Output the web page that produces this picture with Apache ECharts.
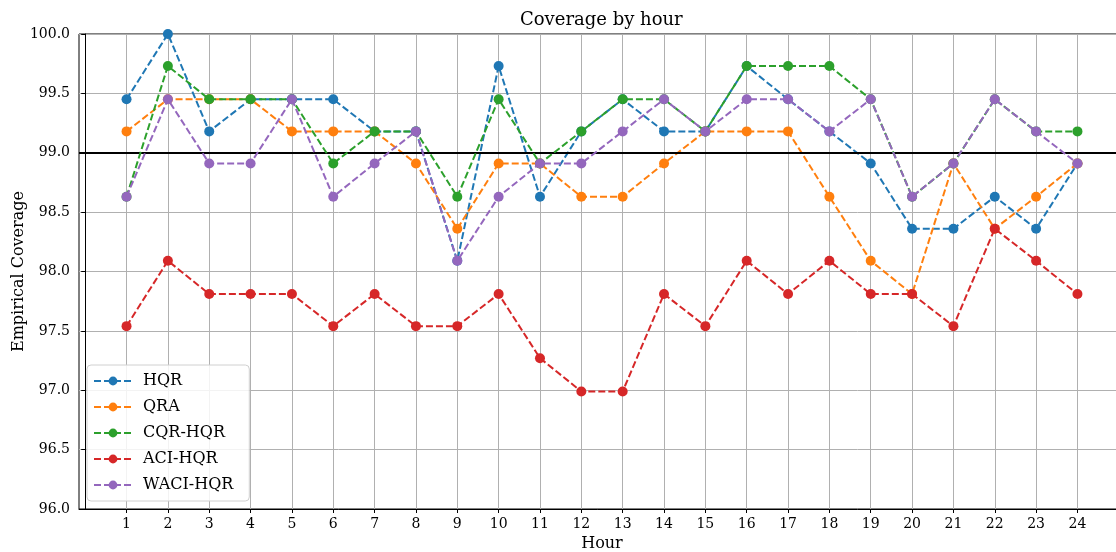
<!DOCTYPE html>
<html>
<head>
<meta charset="utf-8">
<script src="https://cdn.jsdelivr.net/npm/echarts@6/dist/echarts.min.js"></script>
<style>html,body{margin:0;padding:0;background:#fff}#c{width:1116px;height:552px}</style>
</head>
<body>
<div id="c"></div>
<script>
const hours = [1,2,3,4,5,6,7,8,9,10,11,12,13,14,15,16,17,18,19,20,21,22,23,24];
const yTicks = [96.0,96.5,97.0,97.5,98.0,98.5,99.0,99.5,100.0];
const seriesNames = ['HQR','QRA','CQR-HQR','ACI-HQR','WACI-HQR'];
const hqr  = [99.45,100.0,99.18,99.45,99.45,99.45,99.18,99.18,98.09,99.73,98.63,99.18,99.45,99.18,99.18,99.73,99.45,99.18,98.91,98.36,98.36,98.63,98.36,98.91];
const qra  = [99.18,99.45,99.45,99.45,99.18,99.18,99.18,98.91,98.36,98.91,98.91,98.63,98.63,98.91,99.18,99.18,99.18,98.63,98.09,97.81,98.91,98.36,98.63,98.91];
const cqr  = [98.63,99.73,99.45,99.45,99.45,98.91,99.18,99.18,98.63,99.45,98.91,99.18,99.45,99.45,99.18,99.73,99.73,99.73,99.45,98.63,98.91,99.45,99.18,99.18];
const aci  = [97.54,98.09,97.81,97.81,97.81,97.54,97.81,97.54,97.54,97.81,97.27,96.99,96.99,97.81,97.54,98.09,97.81,98.09,97.81,97.81,97.54,98.36,98.09,97.81];
const waci = [98.63,99.45,98.91,98.91,99.45,98.63,98.91,99.18,98.09,98.63,98.91,98.91,99.18,99.45,99.18,99.45,99.45,99.18,99.45,98.63,98.91,99.45,99.18,98.91];
const target = 99.0;
const colors = ['#1f77b4','#ff7f0e','#2ca02c','#d62728','#9467bd'];
const allData = [hqr, qra, cqr, aci, waci];

const font = "'DejaVu Serif', serif";
const chart = echarts.init(document.getElementById('c'), null, {renderer:'canvas'});

const series = allData.map((arr, i) => ({
  name: seriesNames[i],
  type: 'line',
  data: hours.map((h, j) => [h, arr[j]]),
  symbol: 'circle',
  symbolSize: 10,
  showSymbol: true,
  itemStyle: {color: colors[i], borderWidth: 0},
  lineStyle: {color: colors[i], width: 2, type: [7, 3]},
  emphasis: {disabled: true},
  animation: false,
  z: 3 + i
}));
series.push({
  name: 'target',
  type: 'line',
  data: [],
  markLine: {
    silent: true,
    symbol: ['none','none'],
    label: {show: false},
    lineStyle: {color: '#000', width: 2.2, type: 'solid'},
    data: [{yAxis: target}],
    animation: false
  },
  z: 2
});

chart.setOption({
  animation: false,
  backgroundColor: '#fff',
  title: {
    text: 'Coverage by hour',
    left: 515, top: 6,
    textStyle: {fontFamily: font, fontSize: 18, fontWeight: 'normal', color: '#000'}
  },
  legend: {
    data: seriesNames,
    orient: 'vertical',
    left: 87, top: 365,
    itemWidth: 38, itemHeight: 11, itemGap: 10,
    padding: [8, 16, 8, 6],
    borderColor: '#d0d0d0', borderWidth: 1, borderRadius: 4,
    backgroundColor: 'rgba(255,255,255,0.85)',
    textStyle: {fontFamily: font, fontSize: 16, color: '#000', padding: [0,0,0,6]}
  },
  grid: {left: 79, top: 34, right: -9, bottom: 43, outerBoundsMode: 'none', show: true, borderColor: '#000', borderWidth: 1, backgroundColor: 'transparent'},
  xAxis: {
    type: 'value', min: -0.15, max: 25.15,
    name: 'Hour', nameLocation: 'middle', nameGap: 27, nameMoveOverlap: false,
    nameTextStyle: {fontFamily: font, fontSize: 16, color: '#000'},
    axisLine: {show: true, lineStyle: {color: '#000', width: 1}},
    axisTick: {show: true, customValues: hours, length: 4, lineStyle: {color: '#000'}},
    axisLabel: {customValues: hours, fontFamily: font, fontSize: 14, color: '#000', margin: 8},
    splitLine: {show: true, lineStyle: {color: '#b0b0b0', width: 1}}
  },
  yAxis: {
    type: 'value', min: 96, max: 100, interval: 0.5,
    name: 'Empirical Coverage', nameLocation: 'middle', nameGap: 52, nameRotate: 90, nameMoveOverlap: false,
    nameTextStyle: {fontFamily: font, fontSize: 16, color: '#000'},
    axisLine: {show: true, lineStyle: {color: '#000', width: 1}},
    axisTick: {show: true, length: 4, lineStyle: {color: '#000'}},
    axisLabel: {fontFamily: font, fontSize: 14, color: '#000', margin: 9, formatter: v => v.toFixed(1)},
    splitLine: {show: true, lineStyle: {color: '#b0b0b0', width: 1}}
  },
  series: series
});
</script>
</body>
</html>
